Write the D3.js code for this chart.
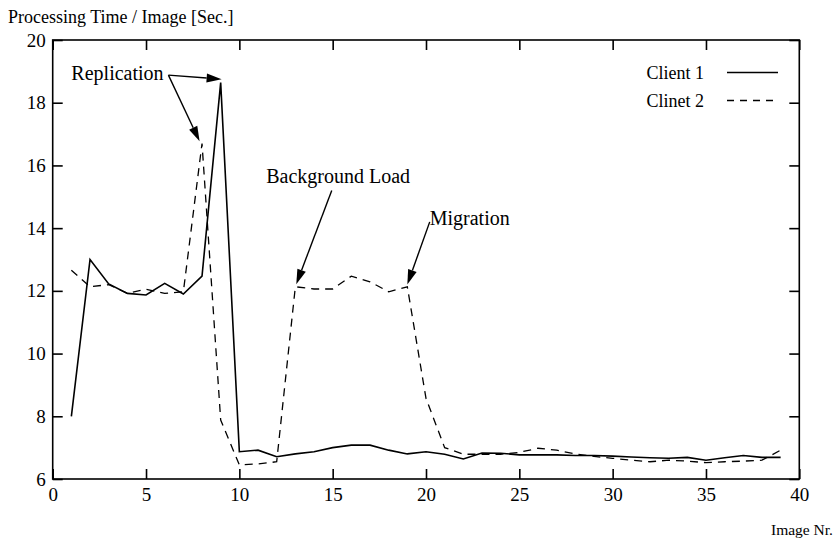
<!DOCTYPE html>
<html><head><meta charset="utf-8">
<script src="https://cdn.jsdelivr.net/npm/d3@7"></script>
<style>html,body{margin:0;padding:0;background:#fff}svg{display:block}text{font-family:"Liberation Serif","Times New Roman",serif;fill:#000}</style>
</head><body>
<svg id="c" width="839" height="542"></svg>
<script>
const imageNr = d3.range(1, 40);
const client1 = [8.0,13.0,12.22,11.92,11.87,12.24,11.9,12.47,18.64,6.87,6.92,6.71,6.8,6.87,7.0,7.08,7.08,6.92,6.8,6.87,6.79,6.64,6.83,6.82,6.77,6.77,6.77,6.75,6.75,6.73,6.7,6.68,6.66,6.69,6.6,6.68,6.75,6.69,6.69];
const client2 = [12.66,12.13,12.2,11.92,12.05,11.92,11.97,16.7,7.88,6.45,6.48,6.55,12.13,12.06,12.06,12.47,12.29,11.97,12.13,8.57,7.0,6.79,6.79,6.79,6.85,6.98,6.92,6.8,6.72,6.66,6.6,6.55,6.6,6.57,6.52,6.55,6.57,6.6,6.92];
const seriesNames = ["Client 1", "Clinet 2"];
const xTicks = [0,5,10,15,20,25,30,35,40];
const yTicks = [6,8,10,12,14,16,18,20];
const yTitle = "Processing Time / Image [Sec.]";
const xTitle = "Image Nr.";
// annotations: label, label position (data), arrows [from, to] in data coords
const annotations = [
  {text:"Replication", at:[1.0,18.72], arrows:[[[6.2,18.88],[9.05,18.75]],[[6.2,18.88],[7.87,16.77]]]},
  {text:"Background Load", at:[11.44,15.44], arrows:[[[14.95,15.2],[13.05,12.21]]]},
  {text:"Migration", at:[20.2,14.1], arrows:[[[20.2,14.2],[19.0,12.2]]]}
];

const svg = d3.select("#c");
const x = d3.scaleLinear().domain([0,40]).range([52.7,799.3]);
const y = d3.scaleLinear().domain([6,20]).range([479,40]);
const FS = 20, FS2 = 18, FST = 19;

// frame
svg.append("rect").attr("x",x(0)).attr("y",y(20)).attr("width",x(40)-x(0)).attr("height",y(6)-y(20))
  .attr("fill","none").attr("stroke","#000").attr("stroke-width",1.6);

// axes with inner ticks
const tl = 10;
svg.append("g").attr("transform",`translate(0,${y(6)})`)
  .call(d3.axisBottom(x).tickValues(xTicks).tickSizeInner(-tl).tickSizeOuter(0).tickPadding(9))
  .call(g=>g.select(".domain").remove());
svg.append("g").attr("transform",`translate(0,${y(20)})`)
  .call(d3.axisTop(x).tickValues(xTicks).tickSizeInner(-tl).tickSizeOuter(0).tickFormat(""))
  .call(g=>g.select(".domain").remove());
svg.append("g").attr("transform",`translate(${x(0)},0)`)
  .call(d3.axisLeft(y).tickValues(yTicks).tickSizeInner(-tl).tickSizeOuter(0).tickPadding(7))
  .call(g=>g.select(".domain").remove());
svg.append("g").attr("transform",`translate(${x(40)},0)`)
  .call(d3.axisRight(y).tickValues(yTicks).tickSizeInner(-tl).tickSizeOuter(0).tickFormat(""))
  .call(g=>g.select(".domain").remove());
svg.selectAll(".tick line").attr("stroke","#000").attr("stroke-width",1.6);
svg.selectAll(".tick text").attr("font-size",FST).attr("font-family","Liberation Serif").attr("fill","#000");

// titles
svg.append("text").attr("x",8).attr("y",23).attr("font-size",FS2).text(yTitle);
svg.append("text").attr("x",833).attr("y",535).attr("text-anchor","end").attr("font-size",15.5).text(xTitle);

// lines
const line = d3.line().x((d,i)=>x(imageNr[i])).y(d=>y(d));
svg.append("path").datum(client1).attr("d",line).attr("fill","none").attr("stroke","#000").attr("stroke-width",1.6).attr("stroke-linejoin","miter");
svg.append("path").datum(client2).attr("d",line).attr("fill","none").attr("stroke","#000").attr("stroke-width",1.3).attr("stroke-dasharray","8,6");

// legend
const leg = svg.append("g");
[0,1].forEach(i=>{
  const yy = i===0 ? 72.5 : 100.5;
  leg.append("text").attr("x",704).attr("y",yy+6).attr("text-anchor","end").attr("font-size",FS2).text(seriesNames[i]);
  leg.append("line").attr("x1",727).attr("x2",778).attr("y1",yy).attr("y2",yy)
    .attr("stroke","#000").attr("stroke-width",i===0?1.6:1.3).attr("stroke-dasharray",i===0?null:"7,6");
});

// annotations
function arrow(p0,p1){
  const x0=x(p0[0]), y0=y(p0[1]), x1=x(p1[0]), y1=y(p1[1]);
  const a=Math.atan2(y1-y0,x1-x0), L=15, W=4.5;
  const bx=x1-L*Math.cos(a), by=y1-L*Math.sin(a);
  svg.append("line").attr("x1",x0).attr("y1",y0).attr("x2",bx).attr("y2",by).attr("stroke","#000").attr("stroke-width",1.4);
  svg.append("path").attr("d",`M${x1},${y1}L${bx+W*Math.sin(a)},${by-W*Math.cos(a)}L${bx-W*Math.sin(a)},${by+W*Math.cos(a)}Z`).attr("fill","#000");
}
annotations.forEach(an=>{
  svg.append("text").attr("x",x(an.at[0])).attr("y",y(an.at[1])).attr("font-size",FS).text(an.text);
  an.arrows.forEach(ar=>arrow(ar[0],ar[1]));
});
</script>
</body></html>
